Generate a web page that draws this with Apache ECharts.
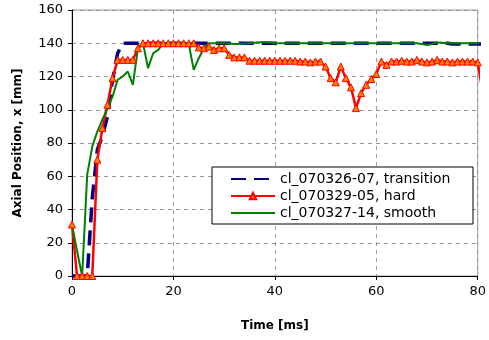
<!DOCTYPE html>
<html>
<head>
<meta charset="utf-8">
<script src="https://cdn.jsdelivr.net/npm/echarts@6/dist/echarts.min.js"></script>
<style>html,body{margin:0;padding:0;background:#fff;}#c{width:489px;height:340px;}</style>
</head>
<body>
<div id="c"></div>
<script>
const time = [0,1,2,3,4,5,6,7,8,9,10,11,12,13,14,15,16,17,18,19,20,21,22,23,24,25,26,27,28,29,30,31,32,33,34,35,36,37,38,39,40,41,42,43,44,45,46,47,48,49,50,51,52,53,54,55,56,57,58,59,60,61,62,63,64,65,66,67,68,69,70,71,72,73,74,75,76,77,78,79,80,81];
const transition = [0,0,0,0,47,76,84,96,118,134,140,140,140,140,140,140,140,140,140,140,140,140,140,140,140,140,140,140,140,140,140,140,140,140,140,140,140,140,140,140,140,140,140,140,140,140,140,140,140,140,140,140,140,140,140,140,140,140,140,140,140,140,140,140,140,140,140,140,140,140,140,140,140,140,140,139.5,139.5,139.5,139.5,139.5,139.5,139.5];
const hard = [31,0,0,0,0,70,89,103,119,130,130,130,130,137,140,140,140,140,140,140,140,140,140,140,140,137.5,137,138,136,137,137,133,131.5,131.5,131.5,129.5,129.5,129.5,129.5,129.5,129.5,129.5,129.5,129.5,129.5,129,129,128.5,129,129,126,119,116.5,126,119,113.5,101,110,115,118.5,121.5,129,127,129,129,129.5,129,129,130,129,128.5,129,130,129,129,128.5,129,129,129,129,128.5,110];
const smooth = [31,15,0,61,78,87,94,101,108,118,120,123,115,137,140,125,134,136,140,140,140,140,140,140,124,131,137,140,140,140,140,139.8,139.5,139.5,139.8,140,140.3,140.6,140.8,140.5,140,140,140,140,140,140,140,140,140,140,140,140,140,140,140,140,140,140,140,140,140,140,140,140,140,140,140,140,140,139.5,139,139.5,140.5,140.3,140,140,140,140,140,140,140,140];
const names = ['cl_070326-07, transition','cl_070329-05, hard','cl_070327-14, smooth'];
const xTicks = [0,20,40,60,80];
const yTicks = [0,20,40,60,80,100,120,140,160];

const xMax = xTicks[xTicks.length-1];
const pairs = (ys) => time.map((t,i)=> t > xMax ? {value:[t, ys[i]], symbol:'none'} : [t, ys[i]]);
const FONT = 'DejaVu Sans';
const chart = echarts.init(document.getElementById('c'), null, {renderer:'canvas'});
chart.setOption({
  animation:false,
  backgroundColor:'#fff',
  textStyle:{fontFamily:FONT},
  grid:{left:72,right:10,top:10,bottom:64,show:true,borderColor:'#999',borderWidth:1,backgroundColor:'transparent'},
  xAxis:{type:'value',min:xTicks[0],max:xMax,interval:20,
    name:'Time [ms]',nameLocation:'middle',nameGap:44,
    nameTextStyle:{fontFamily:FONT,fontSize:12,fontWeight:'bold',color:'#000'},
    axisLine:{lineStyle:{color:'#000',width:1}},
    axisTick:{show:true,length:4,lineStyle:{color:'#000'}},
    axisLabel:{color:'#000',fontSize:13,margin:9,fontFamily:FONT},
    splitLine:{show:true,lineStyle:{color:'#999',type:[4,4],width:1}}},
  yAxis:{type:'value',min:yTicks[0],max:yTicks[yTicks.length-1],interval:20,
    name:'Axial Position, x [mm]',nameLocation:'middle',nameGap:48,
    nameTextStyle:{fontFamily:FONT,fontSize:12,fontWeight:'bold',color:'#000'},
    axisLine:{show:true,lineStyle:{color:'#000',width:1}},
    axisTick:{show:true,length:4,lineStyle:{color:'#000'}},
    axisLabel:{color:'#000',fontSize:13,margin:9,fontFamily:FONT},
    splitLine:{show:true,lineStyle:{color:'#999',type:[4,4],width:1}}},
  legend:{orient:'vertical',left:212,top:167,
    padding:[5,3,4,18],itemGap:3,itemWidth:44,itemHeight:8,
    backgroundColor:'#fff',borderColor:'#000',borderWidth:1,borderRadius:0,
    textStyle:{fontFamily:FONT,fontSize:14,color:'#000',width:190,lineHeight:14},
    data:[
      {name:names[0],itemStyle:{opacity:0}},
      {name:names[1]},
      {name:names[2],itemStyle:{opacity:0}}
    ]},
  series:[
    {name:names[0],type:'line',data:pairs(transition),showSymbol:false,symbol:'none',clip:false,
     lineStyle:{color:'#000080',width:3.5,type:[15,8]},itemStyle:{color:'#000080'}},
    {name:names[1],type:'line',data:pairs(hard),symbol:'triangle',symbolSize:7,showSymbol:true,clip:false,
     lineStyle:{color:'#FF0000',width:2.5},itemStyle:{color:'#FF8000',borderColor:'#FF0000',borderWidth:1}},
    {name:names[2],type:'line',data:pairs(smooth),showSymbol:false,symbol:'none',clip:false,
     lineStyle:{color:'#008000',width:2},itemStyle:{color:'#008000'}}
  ]
});
</script>
</body>
</html>
